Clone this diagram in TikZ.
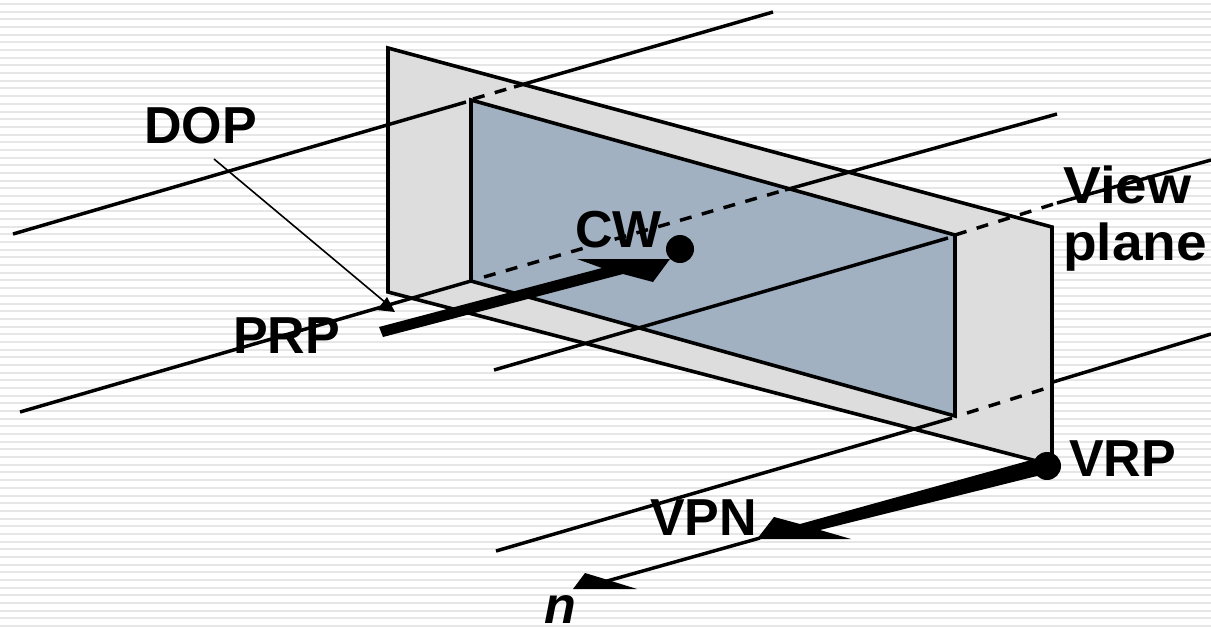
\documentclass[tikz,border=0pt]{standalone}
\usepackage{fontspec}
\setmainfont{Liberation Sans}
\tikzset{
  x=0.75pt,y=-0.75pt,
  ray/.style={draw=black,line width=2.6pt},
  rayhid/.style={draw=black,line width=2.6pt,dash pattern=on 9pt off 8pt},
  edge/.style={draw=black,line width=2.7pt,line join=miter},
  solidblack/.style={fill=black,draw=none},
  lab/.style={font=\fontsize{39}{39}\selectfont\bfseries,text=black,inner sep=0pt,anchor=base west},
}
\definecolor{stripe}{HTML}{E6E6E6}
\definecolor{planegray}{HTML}{DDDDDD}
\definecolor{winblue}{HTML}{A1B1C2}
\begin{document}
\begin{tikzpicture}
\useasboundingbox (0,0) rectangle (1211,626);
\clip (0,0) rectangle (1211,626);
\fill[white] (0,0) rectangle (1211,626);
\foreach \i in {0,...,81}{
  \fill[stripe] (0,{3+7.68*\i}) rectangle (1211,{5+7.68*\i});
}
% corners
\coordinate (o1) at (388,48);
\coordinate (o2) at (1052,227);
\coordinate (o3) at (1052,465);
\coordinate (o4) at (388,292);
\coordinate (w1) at (471,100);
\coordinate (w2) at (955,235);
\coordinate (w3) at (955,416);
\coordinate (w4) at (471,281);
% ray end points
\coordinate (a0) at (13,234);
\coordinate (a1) at (466,102);
\coordinate (a2) at (473,99);
\coordinate (a3) at (514,87);
\coordinate (a4) at (773,12);
\coordinate (b0) at (20,412);
\coordinate (b1) at (471,281);
\coordinate (b2) at (484,277);
\coordinate (b3) at (785,190);
\coordinate (b4) at (1057,114);
\coordinate (c0) at (494,370);
\coordinate (c1) at (948,238);
\coordinate (c2) at (955,235);
\coordinate (c3) at (1057,203);
\coordinate (c4) at (1211,160);
\coordinate (d0) at (496,551);
\coordinate (d1) at (952,418);
\coordinate (d2) at (967,413);
\coordinate (d3) at (1047,388);
\coordinate (d4) at (1053,382);
\coordinate (d5) at (1211,334);
% planes
\fill[planegray] (o1)--(o2)--(o3)--(o4)--cycle;
\fill[winblue] (w1)--(w2)--(w3)--(w4)--cycle;
\draw[edge] (o4)--(o1)--(o2)--(o3)--cycle;
\draw[edge] (w4)--(w1)--(w2)--(w3)--cycle;
% rays
\draw[ray] (a0)--(a1);
\draw[rayhid] (a2)--(a3);
\draw[ray] (a3)--(a4);
\draw[ray] (b0)--(b1);
\draw[rayhid] (b2)--(b3);
\draw[ray] (b3)--(b4);
\draw[ray] (c0)--(c1);
\draw[rayhid] (c2)--(c3);
\draw[ray] (c3)--(c4);
\draw[ray] (d0)--(d1);
\draw[rayhid] (d2)--(d3);
\draw[ray] (d4)--(d5);
% DOP pointer
\coordinate (p0) at (214,159);
\coordinate (p1) at (386,303);
\draw[black,line width=1.2pt] (p0)--(p1);
\fill[solidblack] (387,297)--(377,310)--(395,312)--cycle;
% PRP arrow
\node[solidblack,circle,minimum size=21pt,inner sep=0pt] (cw) at (680,249) {};
\fill[solidblack] (379,327)--(602,268)--(577,259)--(670,259)--(653,282)--(623,274)--(383,337)--cycle;
% VPN arrow
\node[solidblack,circle,minimum size=21pt,inner sep=0pt] (vrp) at (1047,466) {};
\fill[solidblack] (1042,457)--(800,524)--(774,517)--(757,539)--(851,539)--(820,530)--(1045,474)--cycle;
% n arrow
\coordinate (n0) at (760,538);
\coordinate (n1) at (600,583);
\draw[ray] (n0)--(n1);
\fill[solidblack] (585,573)--(573,589)--(637,589)--(608,580)--cycle;
% labels
\node[lab] (dop) at (144,143) {DOP};
\node[lab] (cwl) at (575,247) {CW};
\node[lab] (prp) at (233,353) {PRP};
\node[lab,xscale=1.09] (view) at (1063,203) {View};
\node[lab,xscale=1.06] (plane) at (1063,260) {plane};
\node[lab] (vrpl) at (1069,476) {VRP};
\node[lab] (vpn) at (650,535) {VPN};
\node[lab,font=\fontsize{39}{39}\selectfont\bfseries\itshape] (nl) at (544,623) {n};
\end{tikzpicture}
\end{document}
